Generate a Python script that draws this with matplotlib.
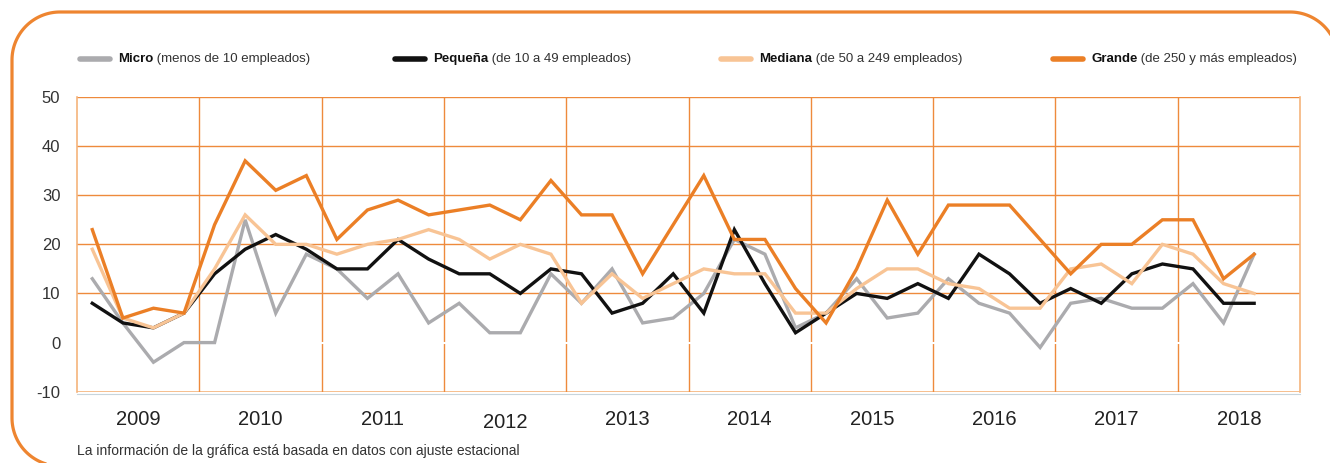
import numpy as np
import matplotlib
matplotlib.use('Agg')
import matplotlib.pyplot as plt
from matplotlib.lines import Line2D
from matplotlib.transforms import ScaledTranslation, IdentityTransform

plt.rcParams['font.family'] = ['Liberation Sans', 'DejaVu Sans']

# datos trimestrales 2009T1 - 2018T3
micro = [13, 4, -4, 0, 0, 25, 6, 18, 15, 9,
         14, 4, 8, 2, 2, 14, 8, 15, 4, 5,
         10, 21, 18, 3, 6, 13, 5, 6, 13, 8,
         6, -1, 8, 9, 7, 7, 12, 4, 18]
pequena = [8, 4, 3, 6, 14, 19, 22, 19, 15, 15,
           21, 17, 14, 14, 10, 15, 14, 6, 8, 14,
           6, 23, 12, 2, 6, 10, 9, 12, 9, 18,
           14, 8, 11, 8, 14, 16, 15, 8, 8]
mediana = [19, 5, 3, 6, 15, 26, 20, 20, 18, 20,
           21, 23, 21, 17, 20, 18, 8, 14, 9, 12,
           15, 14, 14, 6, 6, 11, 15, 15, 12, 11,
           7, 7, 15, 16, 12, 20, 18, 12, 10]
grande = [23, 5, 7, 6, 24, 37, 31, 34, 21, 27,
          29, 26, 27, 28, 25, 33, 26, 26, 14, 24,
          34, 21, 21, 11, 4, 15, 29, 18, 28, 28,
          28, 21, 14, 20, 20, 25, 25, 13, 18]
years = ['2009', '2010', '2011', '2012', '2013', '2014', '2015', '2016', '2017', '2018']
yticks = [-10, 0, 10, 20, 30, 40, 50]

series = [
    ('Micro', ' (menos de 10 empleados)', micro, '#ABABAE'),
    ('Pequeña', ' (de 10 a 49 empleados)', pequena, '#111111'),
    ('Mediana', ' (de 50 a 249 empleados)', mediana, '#F8C495'),
    ('Grande', ' (de 250 y más empleados)', grande, '#EB7F26'),
]

orange = '#EE8A3C'
light_orange = '#F5B47C'

W, H = 1330, 463
fig = plt.figure(figsize=(W / 100, H / 100), dpi=100)
ax = fig.add_axes([77 / W, 1 - 391.7 / H, (1300 - 77) / W, (391.7 - 97) / H])

n_q = len(years) * 4
x = np.arange(len(micro))
ax.set_xlim(-0.5, n_q - 0.5)
ax.set_ylim(-10, 50)

# rejilla
for v in yticks[2:]:
    ax.axhline(v, color=orange, lw=1, zorder=1)
ax.axhline(-10, color=light_orange, lw=1.2, zorder=1)
for k in range(1, len(years)):
    ax.axvline(4 * k - 0.5, color=orange, lw=1, zorder=1)
ax.axhline(0, color='white', lw=1.5, zorder=1.5)

for name, rest, vals, col in series:
    ax.plot(x, vals, color=col, lw=2.4, zorder=3, solid_joinstyle='miter')

ax.spines['top'].set_visible(False)
ax.spines['left'].set_color(light_orange)
ax.spines['right'].set_color(light_orange)
ax.spines['bottom'].set_color('#C8D5DC')
ax.spines['left'].set_linewidth(1.2)
ax.spines['right'].set_linewidth(1.2)
ax.spines['bottom'].set_position(('outward', 1.5))

ax.set_yticks(yticks)
ax.set_yticklabels([str(v) for v in yticks], fontsize=12, color='#333333')
ax.tick_params(axis='y', length=0, pad=12)
ax.set_xticks([4 * i + 1.5 for i in range(len(years))])
ax.set_xticklabels(years, fontsize=14.5, color='#222222')
ax.tick_params(axis='x', length=0, pad=12)
# la etiqueta de 2012 va un poco más baja
lbl = ax.get_xticklabels()[3]
lbl.set_transform(lbl.get_transform() + ScaledTranslation(0, -3 / 100, fig.dpi_scale_trans))

# leyenda manual
renderer = fig.canvas.get_renderer()
leg_y = 1 - 59 / H
handle_x = [80, 395, 721, 1053]
for (name, rest, vals, col), hx in zip(series, handle_x):
    fig.add_artist(Line2D([hx / W, (hx + 30) / W], [leg_y, leg_y], color=col,
                          lw=4, solid_capstyle='round', transform=fig.transFigure))
    t = fig.text((hx + 38) / W, leg_y, name, fontsize=9.5, fontweight='bold',
                 color='#111111', va='center', ha='left')
    bb = t.get_window_extent(renderer)
    fig.text(bb.x1 / W, leg_y, rest, fontsize=9.5, color='#333333', va='center', ha='left')

fig.text(77 / W, 1 - 451 / H, 'La información de la gráfica está basada en datos con ajuste estacional',
         fontsize=10, color='#333333', va='center', ha='left')

# marco naranja redondeado: sólo los tramos visibles (píxeles, y hacia abajo)
r = 48
def arc(cx, cy, a0, a1):
    a = np.radians(np.linspace(a0, a1, 40))
    return cx + r * np.cos(a), cy - r * np.sin(a)

bx, by = arc(12 + r, 466 - r, 270, 180)      # esquina inferior izquierda
tlx, tly = arc(12 + r, 12 + r, 180, 90)      # esquina superior izquierda
trx, try_ = arc(1338 - r, 12 + r, 90, 0)     # esquina superior derecha
fx = np.concatenate([bx, tlx, trx])
fy = np.concatenate([by, tly, try_])
fig.add_artist(Line2D(fx, H - fy, color='#EE8530', lw=2.3,
                      transform=IdentityTransform(), solid_capstyle='butt'))

fig.savefig('out.png', dpi=100)
